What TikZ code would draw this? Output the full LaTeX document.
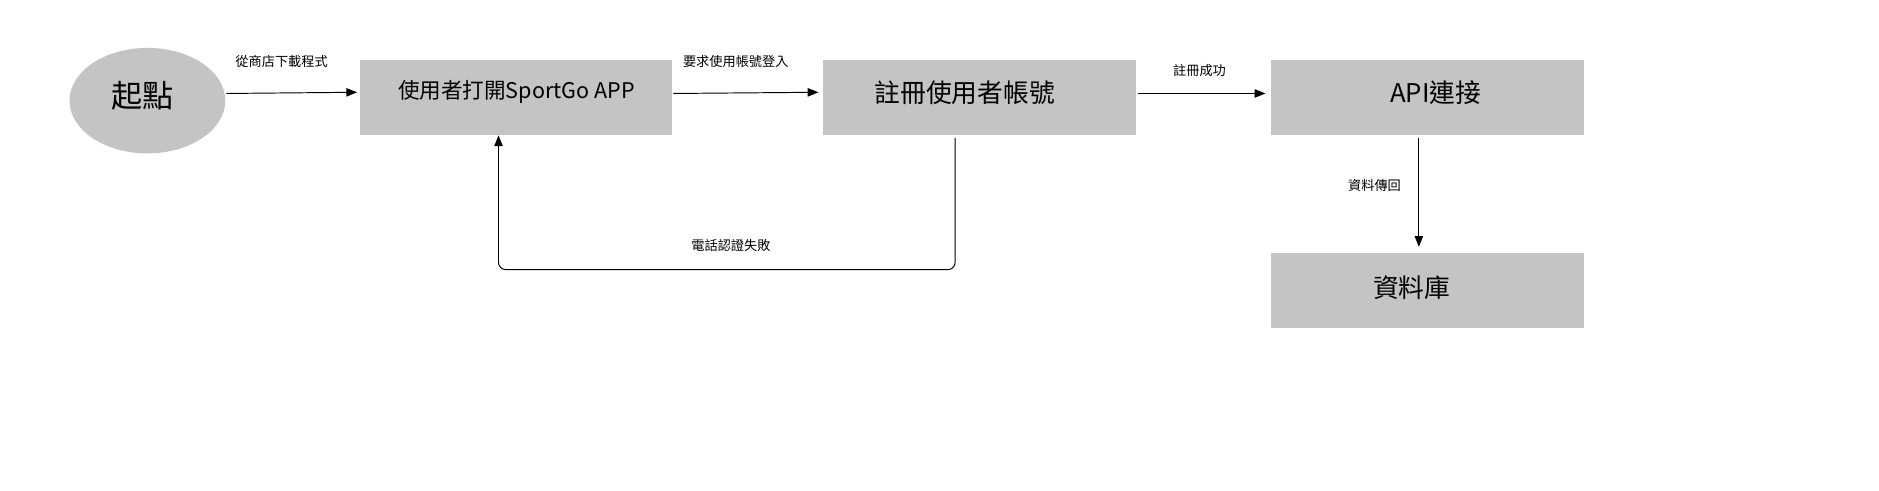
\documentclass[tikz,border=0pt]{standalone}
\usepackage{fontspec}
\setmainfont{Noto Sans CJK TC}
\usetikzlibrary{arrows.meta,shapes.geometric}
\definecolor{boxgray}{HTML}{C4C4C4}
\begin{document}
\begin{tikzpicture}[x=1pt,y=-1pt,
  box/.style={fill=boxgray,draw=none,minimum width=261pt,minimum height=63pt,inner sep=0pt},
  conn/.style={draw=black,line width=0.8pt,-{Triangle[length=9pt,width=7pt]}},
  lbl/.style={font=\fontsize{11}{13}\selectfont,inner sep=0pt}]
\useasboundingbox (0,0) rectangle (1568,409);
\node[ellipse,fill=boxgray,minimum width=130pt,minimum height=88pt,inner sep=0pt] (start) at (123,84) {};
\node[font=\fontsize{26}{30}\selectfont] at (119,80) {起點};
\node[box] (open) at (430.5,81.5) {};
\node[font=\fontsize{18}{22}\selectfont] at (431,77) {使用者打開SportGo APP};
\node[box] (reg) at (817.5,81.5) {};
\node[font=\fontsize{21.5}{25}\selectfont] at (805,77) {註冊使用者帳號};
\node[box] (api) at (1191,81.5) {};
\node[font=\fontsize{21.5}{25}\selectfont] at (1198,77) {API連接};
\node[box] (db) at (1191,242.5) {};
\node[font=\fontsize{21.5}{25}\selectfont] at (1178,240) {資料庫};
\coordinate (s1) at (189,78);
\coordinate (e1) at (298,77);
\draw[conn] (s1) -- (e1);
\node[lbl] at (235,51) {從商店下載程式};
\coordinate (s2) at (562,78);
\coordinate (e2) at (683,77);
\draw[conn] (s2) -- (e2);
\node[lbl] at (614,51) {要求使用帳號登入};
\coordinate (s3) at (950,78);
\coordinate (e3) at (1056,78);
\draw[conn] (s3) -- (e3);
\node[lbl] at (1001,59) {註冊成功};
\coordinate (s4) at (1184,115);
\coordinate (e4) at (1184,206);
\draw[conn] (s4) -- (e4);
\node[lbl] at (1147,155) {資料傳回};
\coordinate (s5) at (797,115);
\coordinate (e5) at (416,113);
\draw[conn,rounded corners=6pt] (s5) -- (797,225) -- (416,225) -- (e5);
\node[lbl] at (610,205) {電話認證失敗};
\end{tikzpicture}
\end{document}
